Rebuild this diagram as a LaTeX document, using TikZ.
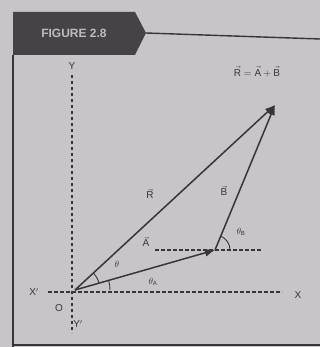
\documentclass[tikz,border=0pt]{standalone}
\usepackage{amsmath}
\usepackage{fontspec}
\setsansfont{Liberation Sans}
\usepackage{xcolor}
\usetikzlibrary{arrows.meta,calc}

\definecolor{paper}{RGB}{200,196,202}
\definecolor{ink}{RGB}{55,52,58}
\definecolor{bannerfill}{RGB}{70,66,70}
\definecolor{bannertext}{RGB}{190,188,192}

\begin{document}
\begin{tikzpicture}[
  x=1pt, y=1pt,
  line/.style={draw=ink, line width=1.4pt},
  axis/.style={draw=ink, line width=1.5pt, dash pattern=on 3.5pt off 2.5pt},
  vector/.style={draw=ink, line width=1.5pt, -{Latex[length=10pt,width=8pt]}},
  lbl/.style={text=ink, font=\sffamily, inner sep=1pt},
  every node/.style={lbl}
]
  \fill[paper] (0,0) rectangle (320,347);
  \useasboundingbox (0,0) rectangle (320,347);

  % frame and banner
  \draw[line] (13,292) -- (13,0);
  \draw[line] (13,2) -- (320,2);
  \fill[bannerfill] (13,335) -- (135,335) -- (146,314) -- (135,292) -- (13,292) -- cycle;
  \node[text=bannertext, font=\sffamily\bfseries\large] (fig) at (74,314) {FIGURE 2.8};
  \draw[line] (146,314) -- (320,308);

  % axes
  \coordinate (O) at (75,57);
  \node (ylbl) at (72,281) {Y};
  \node (yplbl) at (78,23) {Y$'$};
  \node (xlbl) at (298,52) {X};
  \node (xplbl) at (34,55) {X$'$};
  \node (olbl) at (59,39) {O};
  \draw[axis] (72,272) -- (72,14);
  \draw[axis] (48,55) -- (282,55);

  % vectors
  \coordinate (A) at (215,97);
  \coordinate (Rt) at (275,242);
  \draw[axis, line width=1.2pt] (155,97) -- (262,97);
  \draw[vector] (O) -- (A);
  \draw[vector] (A) -- (Rt);
  \draw[vector] (O) -- (Rt);

  % angles
  \draw[ink, line width=0.9pt] ($(O)+(35,0)$) arc[start angle=0, end angle=16, radius=35];
  \draw[ink, line width=0.9pt] ($(O)+(16:25)$) arc[start angle=16, end angle=43, radius=25];
  \draw[ink, line width=0.9pt] ($(A)+(15,0)$) arc[start angle=0, end angle=67.5, radius=15];

  % labels
  \node (rlbl) at (150,153) {$\vec{\text{R}}$};
  \node (blbl) at (224,156) {$\vec{\text{B}}$};
  \node (albl) at (146,105) {$\vec{\text{A}}$};
  \node[font=\sffamily\small] (th) at (117,83) {$\theta$};
  \node[font=\sffamily\small] (tha) at (153,65) {$\theta_{\text{A}}$};
  \node[font=\sffamily\small] (thb) at (241,115) {$\theta_{\text{B}}$};
  \node (eq) at (257,275) {$\vec{\text{R}} = \vec{\text{A}} + \vec{\text{B}}$};
\end{tikzpicture}
\end{document}
